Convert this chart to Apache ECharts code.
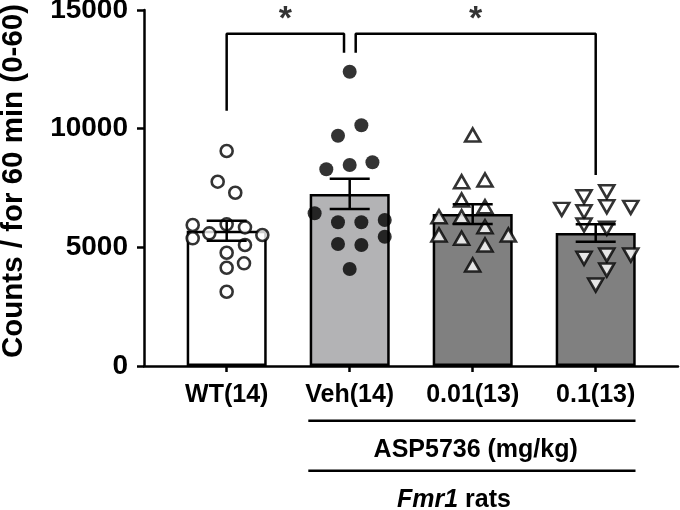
<!DOCTYPE html>
<html><head><meta charset="utf-8">
<script src="https://cdn.jsdelivr.net/npm/echarts@6/dist/echarts.min.js"></script>
<style>html,body{margin:0;padding:0;background:#fff}#c{width:680px;height:510px}</style>
</head><body><div id="c"></div>
<script>
const categories = ['WT(14)', 'Veh(14)', '0.01(13)', '0.1(13)'];
const means = [5700, 7250, 6400, 5600];
const sems = [420, 640, 420, 370];
const barColors = ['#ffffff', '#b3b3b5', '#808080', '#808080'];

const wtValues = [9058, 7765, 7301, 5940, 5380, 5590, 5970, 5843, 5519, 5098, 4773, 4327, 4141, 3130];
const wtJitter = [0, -0.073, 0.07, -0.276, -0.276, -0.141, 0, 0.149, 0.29, 0.149, 0, 0.141, 0, 0];
const vehValues = [12399, 10141, 9703, 8287, 8468, 8582, 6433, 6054, 6054, 6151, 5448, 5140, 5098, 4087];
const vehJitter = [0, 0.095, -0.095, -0.19, 0, 0.185, -0.285, -0.095, 0.095, 0.285, 0.285, -0.095, 0.095, 0];
const lowValues = [9732, 7765, 7836, 6994, 6711, 6290, 6290, 5869, 5519, 5380, 5519, 5098, 4255];
const lowJitter = [0, -0.09, 0.1, -0.09, 0.1, -0.274, -0.09, 0.1, -0.274, -0.09, 0.29, 0.1, 0];
const highValues = [7344, 7133, 6601, 6502, 6711, 6685, 5940, 5801, 4537, 4677, 4677, 4045, 3413];
const highJitter = [0.09, -0.095, -0.276, -0.095, 0.09, 0.285, -0.095, 0.09, -0.095, 0.09, 0.285, 0.09, 0];

const yTicks = [0, 5000, 10000, 15000];
const yTitle = 'Counts / for 60 min (0-60)';
// significance brackets: [from group pos, to group pos, top value, left drop end, right drop end]
const brackets = [
  [0, 0.954, 14000, 10750, 13200],
  [1.049, 3, 14000, 13200, 8050]
];
const starLabels = ['*', '*'];
const starValue = 14600;

const FONT = 'Liberation Sans, Arial, sans-serif';
const chart = echarts.init(document.getElementById('c'), null, {renderer: 'canvas'});

function scatterSeries(vals, jit, idx, extra) {
  return Object.assign({
    type: 'scatter', xAxisIndex: 0, yAxisIndex: 0, z: 4,
    data: vals.map((v, k) => [idx + jit[k], v]),
    emphasis: {disabled: true}, silent: true
  }, extra);
}

const series = [
  {
    type: 'bar', xAxisIndex: 1, yAxisIndex: 1, barWidth: 80, z: 2,
    data: means.map((m, i) => ({value: m, itemStyle: {color: barColors[i]}})),
    itemStyle: {borderColor: '#000', borderWidth: 2.5},
    silent: true
  },
  scatterSeries(wtValues, wtJitter, 0, {symbol: 'circle', symbolSize: 12, itemStyle: {color: '#fff', borderColor: '#000', borderWidth: 2.6}}),
  scatterSeries(vehValues, vehJitter, 1, {symbol: 'circle', symbolSize: 14, itemStyle: {color: '#000'}}),
  scatterSeries(lowValues, lowJitter, 2, {symbol: 'triangle', symbolSize: [15, 13], itemStyle: {color: '#fff', borderColor: '#000', borderWidth: 2.6}}),
  scatterSeries(highValues, highJitter, 3, {symbol: 'triangle', symbolRotate: 180, symbolSize: [15, 13], itemStyle: {color: '#fff', borderColor: '#000', borderWidth: 2.6}}),
  {
    type: 'custom', xAxisIndex: 1, yAxisIndex: 1, z: 5, silent: true,
    data: means.map((m, i) => [i, m, sems[i]]),
    encode: {x: 0, y: 1},
    renderItem: function (params, api) {
      const i = api.value(0), m = api.value(1), s = api.value(2);
      const hi = api.coord([i, m + s]);
      const lo = api.coord([i, m - s]);
      const x = hi[0], hw = 20;
      const st = {stroke: '#000', lineWidth: 2.5};
      return {type: 'group', children: [
        {type: 'line', shape: {x1: x, y1: hi[1], x2: x, y2: lo[1]}, style: st},
        {type: 'line', shape: {x1: x - hw, y1: hi[1], x2: x + hw, y2: hi[1]}, style: st},
        {type: 'line', shape: {x1: x - hw, y1: lo[1], x2: x + hw, y2: lo[1]}, style: st}
      ]};
    }
  }
];

brackets.forEach(b => {
  series.push({
    type: 'line', xAxisIndex: 0, yAxisIndex: 0, z: 6, silent: true,
    symbol: 'none', lineStyle: {color: '#000', width: 2.5},
    data: [[b[0], b[3]], [b[0], b[2]], [b[1], b[2]], [b[1], b[4]]]
  });
});

series.push({
  type: 'scatter', xAxisIndex: 0, yAxisIndex: 0, z: 6, silent: true,
  symbolSize: 1, itemStyle: {color: 'rgba(0,0,0,0)'},
  data: brackets.map((b, k) => ({value: [(b[0] + b[1]) / 2, starValue], name: starLabels[k]})),
  label: {show: true, position: 'inside', formatter: p => p.name, color: '#000',
    fontSize: 34, fontWeight: 'bold', fontFamily: FONT}
});

const option = {
  animation: false,
  backgroundColor: '#fff',
  grid: [
    {left: 144, right: 2, top: 10, bottom: 144, containLabel: false, outerBoundsMode: 'none'},
    {left: 165.2, right: 22.8, top: 10, bottom: 144, containLabel: false, outerBoundsMode: 'none'}
  ],
  xAxis: [
    {type: 'value', gridIndex: 0, min: -0.672, max: 3.669,
      axisLine: {show: true, onZero: false, lineStyle: {color: '#000', width: 2.5}},
      axisTick: {show: false}, axisLabel: {show: false}, splitLine: {show: false}},
    {type: 'category', gridIndex: 1, data: categories,
      axisLine: {show: false, onZero: false},
      axisTick: {show: true, alignWithLabel: true, length: 6, lineStyle: {color: '#000', width: 2.5}},
      axisLabel: {margin: 17, color: '#000', fontSize: 25, fontWeight: 'bold', fontFamily: FONT}}
  ],
  yAxis: [
    {type: 'value', gridIndex: 0, min: yTicks[0], max: yTicks[yTicks.length - 1], interval: yTicks[1] - yTicks[0],
      axisLine: {show: true, onZero: false, lineStyle: {color: '#000', width: 2.5}},
      axisTick: {show: true, length: 7, lineStyle: {color: '#000', width: 2.5}},
      axisLabel: {margin: 16, color: '#000', fontSize: 28, fontWeight: 'bold', fontFamily: FONT,
        formatter: v => String(v)},
      splitLine: {show: false}},
    {type: 'value', gridIndex: 1, min: 0, max: 15000, show: false}
  ],
  series: series,
  graphic: [
    {type: 'text', x: 14, y: 181, rotation: Math.PI / 2,
      style: {text: yTitle, fill: '#000', font: 'bold 29.5px ' + FONT, textAlign: 'center', textVerticalAlign: 'middle'}},
    {type: 'line', shape: {x1: 308.3, y1: 420.7, x2: 635.5, y2: 420.7}, style: {stroke: '#000', lineWidth: 2.5}},
    {type: 'line', shape: {x1: 308.3, y1: 470.7, x2: 635.5, y2: 470.7}, style: {stroke: '#000', lineWidth: 2.5}},
    {type: 'text', x: 475.7, y: 450.5, style: {text: 'ASP5736 (mg/kg)', fill: '#000', font: 'bold 25px ' + FONT, textAlign: 'center', textVerticalAlign: 'middle'}},
    {type: 'text', x: 454, y: 500.3, style: {
      text: '{i|Fmr1}{b| rats}', textAlign: 'center', textVerticalAlign: 'middle',
      rich: {
        i: {fontStyle: 'italic', fontWeight: 'bold', fontSize: 25, fontFamily: FONT, fill: '#000'},
        b: {fontWeight: 'bold', fontSize: 25, fontFamily: FONT, fill: '#000'}
      }}}
  ]
};
chart.setOption(option);
</script>
</body></html>
